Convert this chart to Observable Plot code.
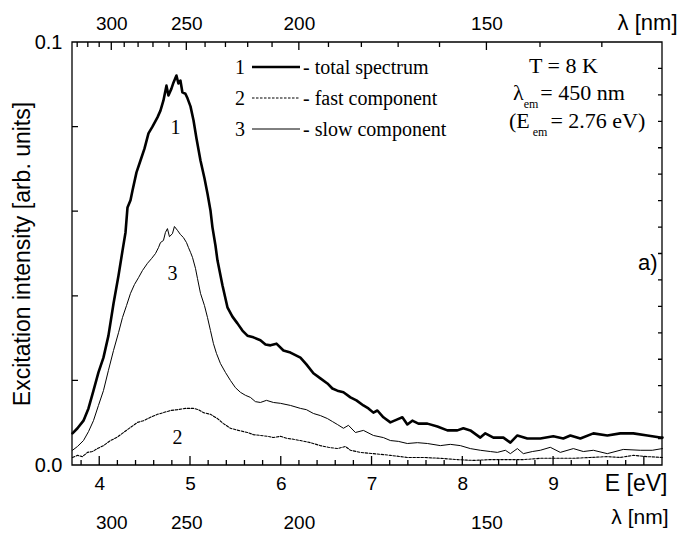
<!DOCTYPE html>
<html>
<head>
<meta charset="utf-8">
<script src="https://cdn.jsdelivr.net/npm/d3@7"></script>
<script src="https://cdn.jsdelivr.net/npm/@observablehq/plot@0.6"></script>
<style>
  html, body { margin: 0; padding: 0; background: #fff; }
  #chart svg { display: block; }
</style>
</head>
<body>
<div id="chart"></div>
<script>
// ---------- DATA ----------
// 1: total spectrum (thick line)
const totalE = [3.700,3.755,3.821,3.876,3.931,3.986,4.041,4.096,4.152,4.207,4.251,4.284,4.306,4.339,4.361,4.405,4.449,4.493,4.537,4.581,4.636,4.669,4.702,4.735,4.757,4.790,4.812,4.845,4.867,4.889,4.911,4.944,4.967,5.000,5.033,5.066,5.110,5.154,5.187,5.220,5.242,5.275,5.297,5.352,5.407,5.462,5.517,5.572,5.627,5.693,5.770,5.826,5.881,5.947,6.024,6.101,6.211,6.277,6.354,6.431,6.508,6.563,6.618,6.685,6.762,6.828,6.905,6.960,7.015,7.059,7.125,7.202,7.279,7.334,7.389,7.444,7.511,7.610,7.720,7.830,7.940,8.006,8.083,8.193,8.248,8.337,8.447,8.524,8.601,8.711,8.854,8.997,9.107,9.185,9.295,9.438,9.592,9.735,9.878,10.033,10.176,10.200];
const totalI = [0.0076,0.0088,0.0106,0.0135,0.0177,0.0220,0.0255,0.0307,0.0383,0.0449,0.0508,0.0551,0.0610,0.0627,0.0650,0.0693,0.0721,0.0749,0.0785,0.0801,0.0823,0.0839,0.0863,0.0898,0.0875,0.0891,0.0905,0.0922,0.0903,0.0910,0.0882,0.0879,0.0868,0.0849,0.0816,0.0773,0.0721,0.0679,0.0643,0.0603,0.0563,0.0520,0.0485,0.0426,0.0374,0.0352,0.0336,0.0319,0.0307,0.0303,0.0296,0.0286,0.0284,0.0288,0.0272,0.0267,0.0255,0.0239,0.0218,0.0206,0.0194,0.0182,0.0177,0.0173,0.0161,0.0154,0.0142,0.0135,0.0125,0.0130,0.0114,0.0102,0.0109,0.0114,0.0097,0.0106,0.0099,0.0099,0.0092,0.0083,0.0083,0.0088,0.0083,0.0066,0.0076,0.0066,0.0066,0.0054,0.0071,0.0064,0.0064,0.0069,0.0064,0.0071,0.0064,0.0076,0.0071,0.0076,0.0076,0.0071,0.0066,0.0066];

// 2: fast component (dotted line)
const fastE = [3.700,3.755,3.810,3.865,3.920,3.975,4.041,4.118,4.185,4.262,4.339,4.416,4.482,4.559,4.636,4.702,4.779,4.856,4.944,5.033,5.088,5.143,5.220,5.297,5.363,5.440,5.528,5.627,5.693,5.770,5.848,5.914,5.991,6.068,6.134,6.211,6.321,6.431,6.519,6.618,6.707,6.762,6.872,7.015,7.202,7.389,7.566,7.753,7.940,8.116,8.304,8.491,8.667,8.854,9.041,9.218,9.405,9.592,9.735,9.878,10.033,10.198];
const fastI = [0.0019,0.0024,0.0021,0.0031,0.0033,0.0040,0.0047,0.0059,0.0066,0.0078,0.0090,0.0102,0.0106,0.0114,0.0121,0.0125,0.0130,0.0132,0.0135,0.0135,0.0132,0.0125,0.0121,0.0111,0.0099,0.0088,0.0083,0.0078,0.0073,0.0071,0.0069,0.0066,0.0069,0.0064,0.0062,0.0059,0.0054,0.0047,0.0043,0.0040,0.0045,0.0036,0.0031,0.0028,0.0024,0.0019,0.0019,0.0017,0.0014,0.0012,0.0014,0.0014,0.0014,0.0017,0.0017,0.0017,0.0019,0.0021,0.0019,0.0024,0.0021,0.0019];

// 3: slow component (thin line)
const slowE = [3.700,3.755,3.821,3.876,3.931,3.986,4.041,4.096,4.152,4.207,4.251,4.295,4.339,4.383,4.427,4.471,4.526,4.570,4.614,4.647,4.669,4.702,4.724,4.746,4.768,4.801,4.823,4.856,4.889,4.922,4.956,4.978,5.000,5.022,5.055,5.077,5.110,5.154,5.187,5.220,5.253,5.286,5.330,5.385,5.440,5.495,5.550,5.605,5.660,5.715,5.770,5.837,5.914,5.991,6.101,6.211,6.277,6.354,6.431,6.508,6.563,6.618,6.685,6.740,6.817,6.905,7.015,7.125,7.202,7.290,7.389,7.500,7.610,7.753,7.863,7.973,8.083,8.193,8.304,8.381,8.469,8.524,8.601,8.667,8.766,8.854,8.964,9.074,9.218,9.328,9.438,9.592,9.768,9.956,10.088,10.198];
const slowI = [0.0036,0.0045,0.0059,0.0080,0.0106,0.0142,0.0177,0.0225,0.0272,0.0314,0.0350,0.0378,0.0407,0.0428,0.0444,0.0461,0.0478,0.0489,0.0501,0.0515,0.0527,0.0532,0.0551,0.0560,0.0541,0.0548,0.0565,0.0556,0.0546,0.0539,0.0527,0.0515,0.0504,0.0492,0.0466,0.0442,0.0407,0.0378,0.0350,0.0319,0.0288,0.0265,0.0241,0.0220,0.0201,0.0184,0.0173,0.0166,0.0161,0.0151,0.0149,0.0154,0.0149,0.0147,0.0142,0.0135,0.0132,0.0123,0.0118,0.0111,0.0104,0.0097,0.0088,0.0095,0.0078,0.0083,0.0071,0.0066,0.0059,0.0057,0.0052,0.0054,0.0052,0.0047,0.0050,0.0047,0.0040,0.0036,0.0033,0.0031,0.0036,0.0028,0.0040,0.0028,0.0033,0.0036,0.0043,0.0031,0.0040,0.0033,0.0036,0.0028,0.0038,0.0036,0.0036,0.0040];

// tick labels
const yLabels = [0.0, 0.1];
const eLabels = [4, 5, 6, 7, 8, 9];
const eMajorTicks = [4, 5, 6, 7, 8, 9, 10];
const lambdaLabels = [300, 250, 200, 150];
const lambdaMinorTicks = [330, 320, 310, 300, 290, 280, 270, 260, 250, 240, 230, 220, 210, 200, 190, 180, 170, 160, 150, 140, 130];
const legendNums = ["1", "2", "3"];
const legendTexts = ["- total spectrum", "- fast component", "- slow component"];

// ---------- CHART ----------
const HC = 1239.84; // eV*nm
const toE = l => HC / l;
const SANS = "'Liberation Sans', Arial, Helvetica, sans-serif";
const SERIF = "'Liberation Serif', 'Times New Roman', Times, serif";
const seriesStyle = [
  {w: 2.6, dash: null},
  {w: 1.1, dash: "2.5,1.5"},
  {w: 1.0, dash: null}
];

// frame box plus inward ticks on all four sides, positioned through the chart's own x/y scales
function boxAndTicks(index, scales, values, dims) {
  const left = dims.marginLeft, right = dims.width - dims.marginRight;
  const top = dims.marginTop, bottom = dims.height - dims.marginBottom;
  const p = d3.path();
  p.rect(left, top, right - left, bottom - top);
  const h = (y, x1, x2) => { p.moveTo(x1, y); p.lineTo(x2, y); };
  const v = (x, y1, y2) => { p.moveTo(x, y1); p.lineTo(x, y2); };
  d3.range(1, 5).map(i => i * 0.02).forEach(t => h(scales.y(t), left, left + 6));
  d3.range(1, 16).map(i => i * 0.00625).forEach(t => h(scales.y(t), right - 4, right));
  d3.range(19, 51).map(i => i / 5).forEach(t => v(scales.x(t), bottom - 5, bottom));
  eMajorTicks.forEach(t => v(scales.x(t), bottom - 9, bottom));
  lambdaMinorTicks.forEach(l => v(scales.x(toE(l)), top, top + 5));
  lambdaLabels.forEach(l => v(scales.x(toE(l)), top, top + 8));
  const g = d3.create("svg:g");
  g.append("path").attr("d", p.toString()).attr("fill", "none").attr("stroke", "#000").attr("stroke-width", 1.3);
  return g.node();
}

function legendMark(index, scales, values, dims) {
  const g = d3.create("svg:g").attr("font-family", SERIF).attr("font-size", 20)
    .attr("fill", "black").attr("text-anchor", "start");
  const x0 = dims.marginLeft, y0 = dims.marginTop;
  legendNums.forEach((n, i) => {
    const cy = y0 + 25 + i * 31;
    g.append("text").attr("x", x0 + 168).attr("y", cy).attr("dy", "0.34em").attr("text-anchor", "middle").text(n);
    const ln = g.append("line").attr("x1", x0 + 180).attr("x2", x0 + 228).attr("y1", cy).attr("y2", cy)
      .attr("stroke", "black").attr("stroke-width", seriesStyle[i].w);
    if (seriesStyle[i].dash) ln.attr("stroke-dasharray", seriesStyle[i].dash);
    g.append("text").attr("x", x0 + 231).attr("y", cy).attr("dy", "0.34em").text(legendTexts[i]);
  });
  return g.node();
}

function conditionsMark(index, scales, values, dims) {
  const g = d3.create("svg:g").attr("font-family", SERIF).attr("font-size", 22)
    .attr("fill", "black").attr("text-anchor", "start");
  const xr = dims.width - dims.marginRight, y0 = dims.marginTop;
  g.append("text").attr("x", xr - 133).attr("y", y0 + 31).text("T = 8 K");
  const t2 = g.append("text").attr("x", xr - 149).attr("y", y0 + 58);
  t2.append("tspan").text("λ");
  t2.append("tspan").attr("font-size", 12).attr("dy", 8).text("em");
  t2.append("tspan").attr("dy", -8).attr("dx", 2).text("= 450 nm");
  const t3 = g.append("text").attr("x", xr - 153).attr("y", y0 + 86);
  t3.append("tspan").text("(E");
  t3.append("tspan").attr("font-size", 12).attr("dy", 8).attr("dx", 3).text("em");
  t3.append("tspan").attr("dy", -8).attr("dx", 3).text("= 2.76 eV)");
  return g.node();
}

const chart = Plot.plot({
  width: 678,
  height: 534,
  marginTop: 42,
  marginRight: 16,
  marginBottom: 69,
  marginLeft: 72,
  style: {fontFamily: SANS, background: "white", color: "black", overflow: "visible"},
  x: {domain: [3.7, 10.2]},
  y: {domain: [0, 0.1]},
  marks: [
    // tick labels
    Plot.axisY({anchor: "left", ticks: yLabels, tickSize: 0, tickPadding: 10, tickFormat: d3.format(".1f"), fontSize: 20, label: null}),
    Plot.axisX({anchor: "bottom", ticks: eLabels, tickSize: 0, tickPadding: 11, tickFormat: d3.format("d"), fontSize: 19, label: null}),
    Plot.axisX({anchor: "bottom", ticks: lambdaLabels.map(toE), tickSize: 0, tickPadding: 50, tickFormat: d => Math.round(HC / d), fontSize: 19, label: null}),
    Plot.axisX({anchor: "top", ticks: lambdaLabels.map(toE), tickSize: 0, tickPadding: 13, tickFormat: d => Math.round(HC / d), fontSize: 19, label: null}),
    // data lines
    Plot.line(fastE, {x: fastE, y: fastI, stroke: "black", strokeWidth: seriesStyle[1].w, strokeDasharray: seriesStyle[1].dash}),
    Plot.line(slowE, {x: slowE, y: slowI, stroke: "black", strokeWidth: seriesStyle[2].w}),
    Plot.line(totalE, {x: totalE, y: totalI, stroke: "black", strokeWidth: seriesStyle[0].w}),
    // curve labels, placed below each curve's maximum
    Plot.text(totalE, Plot.selectMaxY({x: totalE, y: totalI, text: () => "1", dy: 52, dx: -1, fontFamily: SERIF, fontSize: 20})),
    Plot.text(slowE, Plot.selectMaxY({x: slowE, y: slowI, text: () => "3", dy: 47, dx: -2, fontFamily: SERIF, fontSize: 20})),
    Plot.text(fastE, Plot.selectMaxY({x: fastE, y: fastI, text: () => "2", dy: 29, dx: -8, fontFamily: SERIF, fontSize: 20})),
    // axis titles
    Plot.text(["Excitation intensity [arb. units]"], {frameAnchor: "left", dx: -50, rotate: -90, textAnchor: "middle", lineAnchor: "middle", fontSize: 23}),
    Plot.text(["E [eV]"], {frameAnchor: "bottom-right", dx: 5, dy: 18, textAnchor: "end", lineAnchor: "middle", fontSize: 23}),
    Plot.text(["λ [nm]"], {frameAnchor: "bottom-right", dx: 6, dy: 52, textAnchor: "end", lineAnchor: "middle", fontSize: 21}),
    Plot.text(["λ [nm]"], {frameAnchor: "top-right", dx: 15, dy: -20, textAnchor: "end", lineAnchor: "middle", fontSize: 22}),
    Plot.text(["a)"], {frameAnchor: "right", dx: -5, dy: 9, textAnchor: "end", lineAnchor: "middle", fontSize: 22}),
    // legend, measurement conditions, frame box and inward ticks
    legendMark,
    conditionsMark,
    boxAndTicks
  ]
});

document.getElementById("chart").appendChild(chart);
</script>
</body>
</html>
